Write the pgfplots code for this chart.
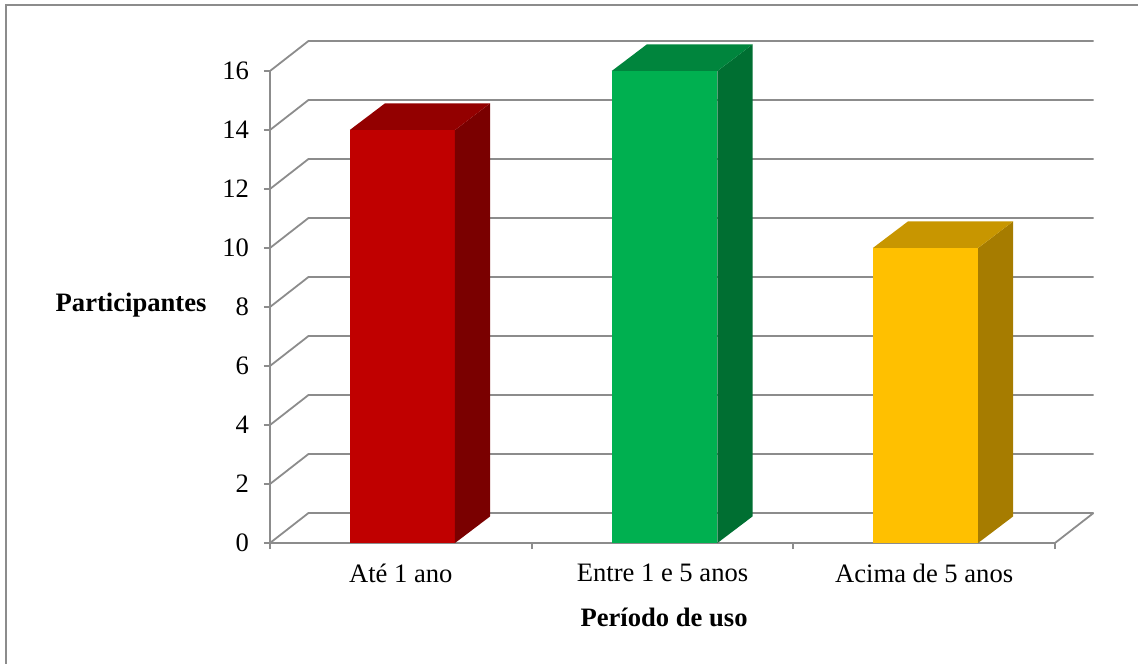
\documentclass[border=0pt]{standalone}
\usepackage{fontspec}
\setmainfont{Liberation Serif}
\usepackage{pgfplots}
\pgfplotsset{compat=1.18}
\definecolor{gridc}{HTML}{8C8C8C}
\definecolor{redF}{HTML}{C00000}
\definecolor{redT}{HTML}{930000}
\definecolor{redS}{HTML}{7A0000}
\definecolor{grnF}{HTML}{00B050}
\definecolor{grnT}{HTML}{00853D}
\definecolor{grnS}{HTML}{006F32}
\definecolor{ylwF}{HTML}{FFC000}
\definecolor{ylwT}{HTML}{C89600}
\definecolor{ylwS}{HTML}{A67C00}
\begin{document}
\begin{tikzpicture}[font=\fontsize{13.3pt}{16pt}\selectfont]
\path[use as bounding box] (-135pt,-60pt) rectangle (434pt,271.5pt);
\draw[gridc, line width=0.75pt] (-132pt,-62pt) -- (-132pt,269pt) -- (436pt,269pt);
\begin{axis}[
  at={(0,0)}, anchor=south west,
  x=130.83pt, y=14.75pt,
  xmin=0, xmax=3, ymin=0, ymax=16,
  clip=false,
  axis lines*=left,
  axis line style={gridc, line width=0.9pt},
  tick style={gridc, line width=0.9pt},
  tick align=outside,
  major tick length=3pt,
  ytick={0,2,4,6,8,10,12,14,16},
  xtick={0,1,2,3},
  x tick label as interval,
  xticklabels={Até 1 ano, Entre 1 e 5 anos, Acima de 5 anos},
  /pgf/number format/assume math mode=true,
  yticklabel style={xshift=-4pt},
  xticklabel style={yshift=-4pt},
  xlabel={Período de uso},
  ylabel={Participantes},
  every axis x label/.style={at={(axis description cs:0.502,-0.157)}, anchor=center, font=\fontsize{13.3pt}{16pt}\selectfont\bfseries},
  every axis y label/.style={at={(axis description cs:-0.177,0.504)}, anchor=center, font=\fontsize{13.3pt}{16pt}\selectfont\bfseries},
]
\pgfplotsinvokeforeach{0,2,4,6,8,10,12,14,16}{
  \draw[gridc, line width=0.9pt] (axis cs:0,#1) -- ++(19.25pt,15pt) -- ++(392.5pt,0pt);
}
\draw[gridc, line width=0.9pt] (axis cs:3,0) -- ++(19.25pt,15pt);
% Ate 1 ano = 14
\addplot[fill=redF, draw=none] coordinates {(0.305,0) (0.707,0) (0.707,14) (0.305,14)} -- cycle;
\addplot[fill=redS, draw=none] coordinates {(0.707,0) (0.841,0.9) (0.841,14.9) (0.707,14)} -- cycle;
\addplot[fill=redT, draw=none] coordinates {(0.305,14) (0.707,14) (0.841,14.9) (0.439,14.9)} -- cycle;
% Entre 1 e 5 anos = 16
\addplot[fill=grnF, draw=none] coordinates {(1.306,0) (1.710,0) (1.710,16) (1.306,16)} -- cycle;
\addplot[fill=grnS, draw=none] coordinates {(1.710,0) (1.844,0.9) (1.844,16.9) (1.710,16)} -- cycle;
\addplot[fill=grnT, draw=none] coordinates {(1.306,16) (1.710,16) (1.844,16.9) (1.440,16.9)} -- cycle;
% Acima de 5 anos = 10
\addplot[fill=ylwF, draw=none] coordinates {(2.304,0) (2.706,0) (2.706,10) (2.304,10)} -- cycle;
\addplot[fill=ylwS, draw=none] coordinates {(2.706,0) (2.840,0.9) (2.840,10.9) (2.706,10)} -- cycle;
\addplot[fill=ylwT, draw=none] coordinates {(2.304,10) (2.706,10) (2.840,10.9) (2.438,10.9)} -- cycle;
\end{axis}
\end{tikzpicture}
\end{document}
